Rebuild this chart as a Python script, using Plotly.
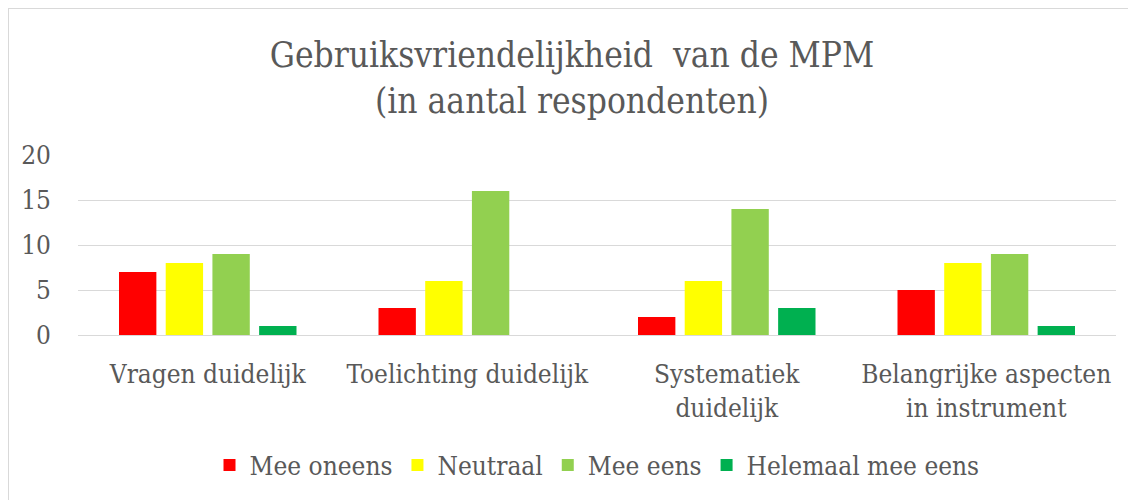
import plotly.graph_objects as go

categories = ["Vragen duidelijk", "Toelichting duidelijk", "Systematiek<br>duidelijk", "Belangrijke aspecten<br>in instrument"]
series_names = ["Mee oneens", "Neutraal", "Mee eens", "Helemaal mee eens"]
mee_oneens = [7, 3, 2, 5]
neutraal = [8, 6, 6, 8]
mee_eens = [9, 16, 14, 9]
helemaal_mee_eens = [1, 0, 3, 1]
colors = ["#FF0000", "#FFFF00", "#92D050", "#00B050"]
y_ticks = [0, 5, 10, 15, 20]

OFF = 8  # page body margin
W, H = 1136 - OFF, 500 - OFF
L, R, T, B = 78 - OFF, 20, 155 - OFF, 500 - 335
pw, ph = W - L - R, H - T - B

font_family = "DejaVu Serif Condensed, DejaVu Serif"
gray = "#595959"

fig = go.Figure()
for name, vals, col in zip(series_names, [mee_oneens, neutraal, mee_eens, helemaal_mee_eens], colors):
    fig.add_trace(go.Bar(name=name, x=categories, y=vals, marker=dict(color=col, line=dict(width=0))))

def px_x(p):
    return (p - OFF - L) / pw

def px_y(p):
    return (H - B - (p - OFF)) / ph

fig.add_shape(type="rect", xref="paper", yref="paper",
              x0=px_x(8), x1=px_x(1160), y0=px_y(520), y1=px_y(8),
              line=dict(color="#D9D9D9", width=2), fillcolor="rgba(0,0,0,0)", layer="below")

fig.update_layout(
    width=W, height=H,
    margin=dict(l=L, r=R, t=T, b=B, autoexpand=False),
    paper_bgcolor="white", plot_bgcolor="white",
    barmode="group", bargap=0.28, bargroupgap=0.2,
    font=dict(family=font_family, color=gray),
    title=dict(text="Gebruiksvriendelijkheid  van de MPM<br>(in aantal respondenten)",
               x=0.5, xanchor="center", y=1 - (67 - OFF) / H, yanchor="middle",
               font=dict(family=font_family, size=35, color=gray)),
    xaxis=dict(showgrid=False, showline=False, ticks="", tickfont=dict(family=font_family, size=26, color=gray),
               ticklabelstandoff=21, automargin=False),
    yaxis=dict(range=[0, 20], tickvals=y_ticks, showgrid=True, gridcolor="#D9D9D9", gridwidth=1,
               zeroline=True, zerolinecolor="#D9D9D9", zerolinewidth=1,
               showline=False, ticks="", ticklabelstandoff=26,
               tickfont=dict(family=font_family, size=26, color=gray), automargin=False),
    legend=dict(orientation="h", x=0.5, xanchor="center", y=px_y(465), yanchor="middle",
                font=dict(family=font_family, size=26, color=gray), itemwidth=30,
                traceorder="normal"),
    showlegend=True,
)

fig.write_html("out.html")
